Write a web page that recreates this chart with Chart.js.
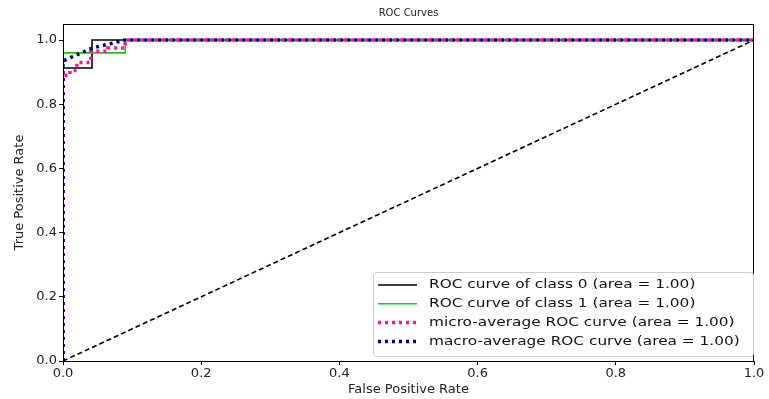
<!DOCTYPE html>
<html>
<head>
<meta charset="utf-8">
<script src="https://cdn.jsdelivr.net/npm/chart.js@4"></script>
<style>
  html, body { margin: 0; padding: 0; background: #fff; }
  #wrap { width: 769px; height: 399px; }
</style>
</head>
<body>
<div id="wrap"><canvas id="roc" width="769" height="399"></canvas></div>
<script>
// ROC curve points, as [fpr, tpr]
const class0Fpr = [0, 0, 0.042, 0.042, 1];
const class0Tpr = [0, 0.913, 0.913, 1, 1];
const class1Fpr = [0, 0, 0.09, 0.09, 1];
const class1Tpr = [0, 0.96, 0.96, 1, 1];
const microFpr = [0, 0, 0.01, 0.01, 0.02, 0.02, 0.04, 0.04, 0.065, 0.065, 0.09, 0.09, 1];
const microTpr = [0, 0.89, 0.89, 0.905, 0.905, 0.93, 0.93, 0.965, 0.965, 0.975, 0.975, 1, 1];
const macroFpr = [0, 0, 0.042, 0.09, 1];
const macroTpr = [0, 0.935, 0.975, 1, 1];
const chanceFpr = [0, 1];
const chanceTpr = [0, 1];

const seriesNames = [
  "ROC curve of class 0 (area = 1.00)",
  "ROC curve of class 1 (area = 1.00)",
  "micro-average ROC curve (area = 1.00)",
  "macro-average ROC curve (area = 1.00)"
];
const xTicks = [0, 0.2, 0.4, 0.6, 0.8, 1.0];
const yTicks = [0, 0.2, 0.4, 0.6, 0.8, 1.0];

const FONT = "'DejaVu Sans', sans-serif";

function pts(xs, ys) {
  return xs.map((x, i) => ({ x: x, y: ys[i] }));
}

const styles = [
  { color: "#000000", width: 1.6, dash: [] },
  { color: "#19c819", width: 1.6, dash: [] },
  { color: "#ff1493", width: 3.5, dash: [3, 4] },
  { color: "#000080", width: 3.5, dash: [3, 4] }
];

// frame, title and legend inside the plot area, like matplotlib
const extras = {
  id: "extras",
  afterDraw(chart) {
    const ctx = chart.ctx;
    const a = chart.chartArea;
    ctx.save();
    ctx.strokeStyle = "#000";
    ctx.lineWidth = 1;
    ctx.setLineDash([]);
    ctx.strokeRect(a.left + 0.5, a.top + 0.5, a.right - a.left - 1, a.bottom - a.top);

    ctx.fillStyle = "#222";
    ctx.font = "10px " + FONT;
    ctx.textAlign = "center";
    ctx.textBaseline = "middle";
    ctx.fillText("ROC Curves", (a.left + a.right) / 2, 13);

    // legend box
    const bx = 373, by = 272, bw = 380, bh = 84;
    ctx.fillStyle = "rgba(255,255,255,0.85)";
    ctx.strokeStyle = "#cccccc";
    ctx.lineWidth = 1;
    ctx.beginPath();
    ctx.roundRect(bx + 0.5, by + 0.5, bw, bh, 3);
    ctx.fill();
    ctx.stroke();

    ctx.font = "13px " + FONT;
    ctx.textAlign = "left";
    seriesNames.forEach((name, i) => {
      const y = 285 + i * 18.8;
      const s = styles[i];
      ctx.strokeStyle = s.color;
      ctx.lineWidth = s.width;
      ctx.setLineDash(s.dash);
      ctx.beginPath();
      ctx.moveTo(378, y);
      ctx.lineTo(417, y);
      ctx.stroke();
      // the reference text is a bit wider than it is tall
      ctx.save();
      ctx.translate(429, y);
      ctx.scale(1.18, 1);
      ctx.fillStyle = "#111";
      ctx.fillText(name, 0, 0);
      ctx.restore();
    });
    ctx.restore();
  }
};

const datasets = [
  [class0Fpr, class0Tpr],
  [class1Fpr, class1Tpr],
  [microFpr, microTpr],
  [macroFpr, macroTpr]
].map((d, i) => ({
  label: seriesNames[i],
  data: pts(d[0], d[1]),
  borderColor: styles[i].color,
  borderWidth: styles[i].width,
  borderDash: styles[i].dash,
  order: 5 - i
}));

datasets.push({
  label: "chance",
  data: pts(chanceFpr, chanceTpr),
  borderColor: "#000",
  borderWidth: 1.6,
  borderDash: [5, 3],
  order: 0
});

new Chart(document.getElementById("roc"), {
  type: "scatter",
  data: { datasets: datasets },
  options: {
    responsive: false,
    animation: false,
    showLine: true,
    elements: { point: { radius: 0 }, line: { tension: 0 } },
    layout: { padding: { left: 0, top: 24, right: 15, bottom: 0 } },
    plugins: { legend: { display: false }, tooltip: { enabled: false } },
    scales: {
      x: {
        type: "linear",
        min: 0,
        max: 1,
        afterBuildTicks: (s) => { s.ticks = xTicks.map(v => ({ value: v })); },
        afterFit: (s) => { s.height = 38; },
        grid: { drawOnChartArea: false, drawTicks: true, tickLength: 4, tickColor: "#000" },
        border: { color: "#000" },
        ticks: {
          color: "#222",
          font: { family: FONT, size: 13 },
          padding: 1,
          maxRotation: 0,
          callback: (v) => v.toFixed(1)
        },
        title: {
          display: true,
          text: "False Positive Rate",
          color: "#222",
          font: { family: FONT, size: 13 },
          padding: { top: 0, bottom: 2 }
        }
      },
      y: {
        type: "linear",
        min: 0,
        max: 1.05,
        afterBuildTicks: (s) => { s.ticks = yTicks.map(v => ({ value: v })); },
        afterFit: (s) => { s.width = 63; },
        grid: { drawOnChartArea: false, drawTicks: true, tickLength: 4, tickColor: "#000" },
        border: { color: "#000" },
        ticks: {
          color: "#222",
          font: { family: FONT, size: 13 },
          padding: 2,
          callback: (v) => v.toFixed(1)
        },
        title: {
          display: true,
          text: "True Positive Rate",
          color: "#222",
          font: { family: FONT, size: 13 },
          padding: { top: 12, bottom: 0 }
        }
      }
    }
  },
  plugins: [extras]
});
</script>
</body>
</html>
